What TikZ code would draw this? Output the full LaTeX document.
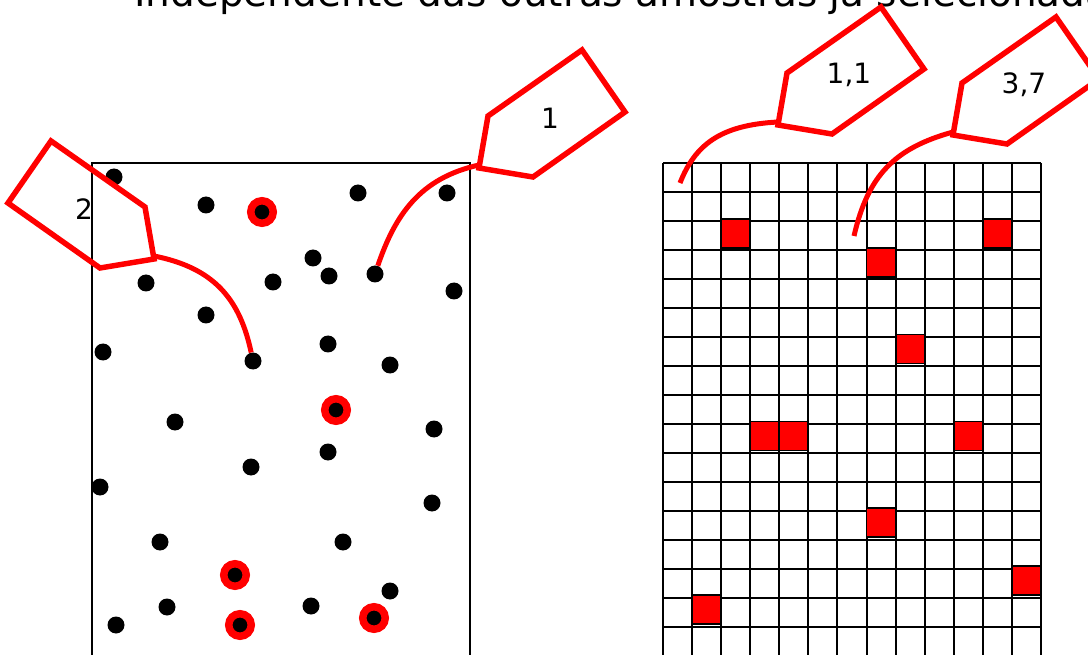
\documentclass[tikz,border=0pt]{standalone}
\usepackage{fontspec}
\setmainfont{DejaVu Sans}
\usetikzlibrary{calc}
\definecolor{tagred}{HTML}{FF0000}
\tikzset{
  dot/.style={circle,fill=black,inner sep=0pt,minimum size=17pt},
  pick/.style={circle,draw=tagred,line width=7.5pt,fill=black,inner sep=0pt,minimum size=22.5pt},
  cell/.style={rectangle,draw=black,line width=1.8pt,fill=tagred,inner sep=0pt,minimum size=29pt},
  gridline/.style={line width=2pt},
  tagline/.style={draw=tagred,line width=5.5pt},
  string/.style={draw=tagred,line width=5pt},
  tagtext/.style={font=\fontsize{28}{30}\selectfont,inner sep=0pt},
  title/.style={font=\fontsize{39}{41}\selectfont,inner sep=0pt},
  labeltag/.pic={
    \draw[tagline] (0,0) -- (94,-66) -- (137,-4) -- (45,61) -- (-9,52) -- cycle;
    \coordinate (-tail) at (-9,49);
  },
}
\begin{document}
\begin{tikzpicture}[x=1pt,y=-1pt]
\useasboundingbox (0,0) rectangle (1088,655);
\clip (0,0) rectangle (1088,655);
\node[title,anchor=base west] (title) at (134,7) {Independente das outras amostras já selecionadas};

% left: population with points
\draw[gridline] (92,663) -- (92,163) -- (470,163) -- (470,663);
\foreach \x/\y [count=\i] in {114/177,206/205,358/193,447/193,313/258,329/276,375/274,146/283,273/282,454/291,
  206/315,103/352,253/361,328/344,390/365,175/422,434/429,328/452,251/467,100/487,
  432/503,160/542,343/542,390/591,167/607,311/606,116/625}
  \node[dot] (d\i) at (\x,\y) {};
\foreach \x/\y [count=\i] in {262/212,336/410,235/575,240/625,374/618}
  \node[pick] (p\i) at (\x,\y) {};

\pic (tone) at (488,116) {labeltag};
\node[tagtext] (tone-txt) at (550,118) {1};
\pic[xscale=-1] (ttwo) at (145,207) {labeltag};
\node[tagtext] (ttwo-txt) at (84,209) {2};
\draw[string] (tone-tail) .. controls (420,178) and (395,215) .. (d7);
\draw[string] (ttwo-tail) .. controls (215,268) and (240,300) .. (d13);

% right: grid of units
\foreach \i in {0,...,13}
  \draw[gridline] (663+29.08*\i,163) -- (663+29.08*\i,663);
\foreach \j in {0,...,16}
  \draw[gridline] (663,163.3+28.96*\j) -- (1041,163.3+28.96*\j);
\foreach \c/\r [count=\i] in {2/2,11/2,7/3,8/6,3/9,4/9,10/9,7/12,12/14,1/15}
  \node[cell] (c\i) at (663+29.08*\c+14.5,163.3+28.96*\r+12) {};

\pic (tthree) at (787,73) {labeltag};
\node[tagtext] (tthree-txt) at (849,75) {1,1};
\pic (tfour) at (962,83) {labeltag};
\node[tagtext] (tfour-txt) at (1024,85) {3,7};
\coordinate (s1) at (680,183);
\coordinate (s2) at (854,236);
\draw[string] (tthree-tail) .. controls (720,125) and (695,145) .. (s1);
\draw[string] (tfour-tail) .. controls (895,148) and (868,175) .. (s2);
\end{tikzpicture}
\end{document}
